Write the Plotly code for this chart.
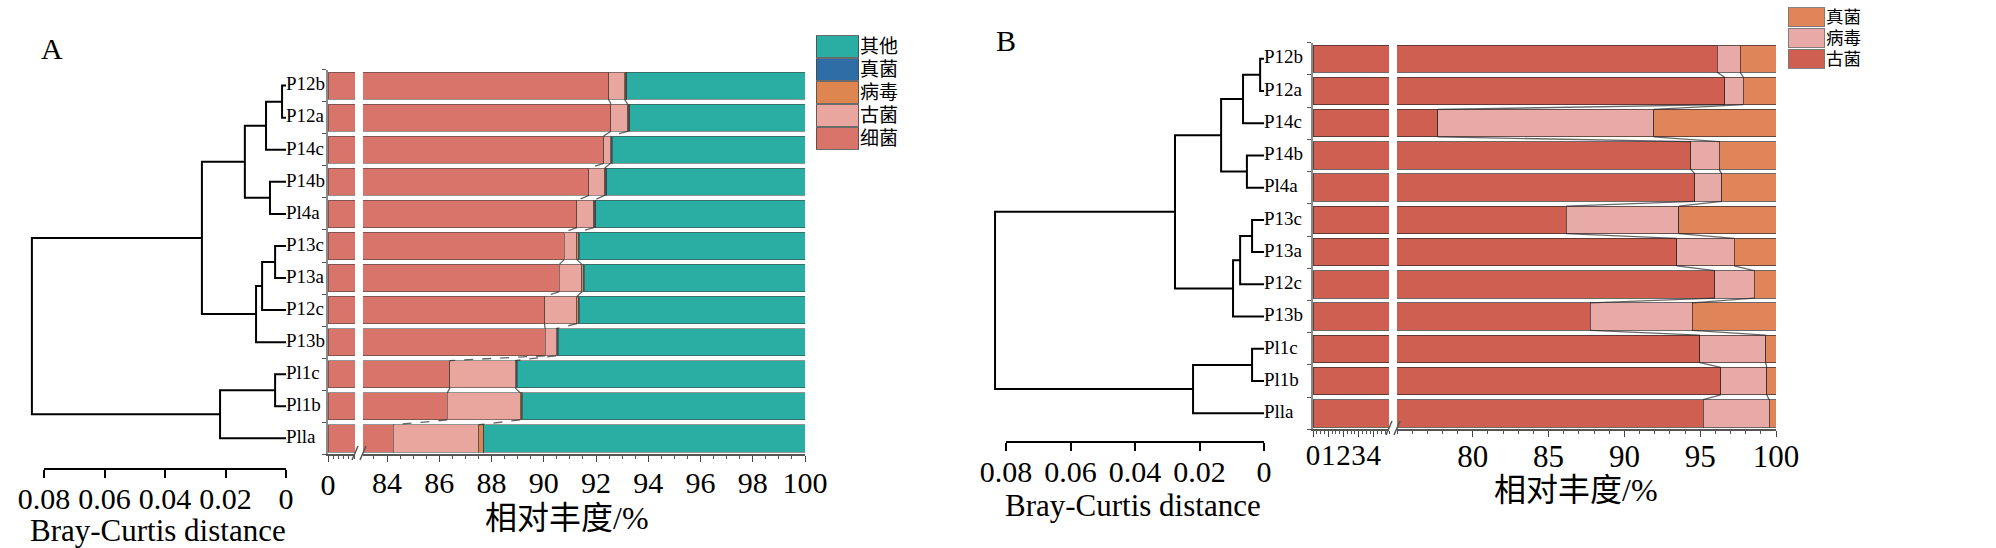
import plotly.graph_objects as go

W, H = 1996, 548

# ---------------- data ----------------
samples = ["P12b", "P12a", "P14c", "P14b", "Pl4a", "P13c", "P13a", "P12c", "P13b", "Pl1c", "Pl1b", "Plla"]

# Panel A : relative abundance (%)
a_bacteria = [92.48, 92.57, 92.29, 91.73, 91.27, 90.78, 90.60, 90.03, 90.05, 86.41, 86.31, 84.24]
a_archaea = [0.61, 0.64, 0.25, 0.60, 0.64, 0.49, 0.86, 1.24, 0.42, 2.49, 2.79, 3.28]
a_virus = [0.05, 0.05, 0.05, 0.05, 0.05, 0.05, 0.05, 0.05, 0.05, 0.05, 0.05, 0.16]
a_fungi = [0.03, 0.03, 0.03, 0.03, 0.03, 0.03, 0.03, 0.03, 0.03, 0.03, 0.03, 0.03]
a_others = [6.83, 6.71, 7.38, 7.59, 8.01, 8.65, 8.46, 8.65, 9.45, 11.02, 10.82, 12.29]

# Panel B : relative abundance (%)
b_archaea = [96.13, 96.61, 77.69, 94.37, 94.65, 86.15, 93.44, 95.95, 87.76, 94.98, 96.35, 95.20]
b_virus = [1.50, 1.24, 14.25, 1.87, 1.77, 7.44, 3.79, 2.60, 6.72, 4.34, 3.04, 4.34]
b_fungi = [2.37, 2.15, 8.06, 3.76, 3.58, 6.41, 2.77, 1.45, 5.52, 0.68, 0.61, 0.46]

# Dendrograms (Bray-Curtis), linkage: node 12+ = merge of (left, right) at height
link_left = [0, 12, 3, 13, 5, 16, 17, 15, 9, 20, 19]
link_right = [1, 2, 4, 14, 6, 7, 8, 18, 10, 11, 21]
a_link_height = [0.0013, 0.0066, 0.0053, 0.0136, 0.0036, 0.0079, 0.0099, 0.0278, 0.0036, 0.0218, 0.084]
b_link_height = [0.0012, 0.0065, 0.0053, 0.0133, 0.0037, 0.0074, 0.0096, 0.0276, 0.0037, 0.0220, 0.0834]

dist_ticks = [0.08, 0.06, 0.04, 0.02, 0]
dist_ticktext = ["0.08", "0.06", "0.04", "0.02", "0"]

a_names = ["细菌", "古菌", "病毒", "真菌", "其他"]
a_colors = ["#d9746b", "#e9a69e", "#de8550", "#2e6da6", "#2aada2"]
b_names = ["古菌", "病毒", "真菌"]
b_colors = ["#cf5f51", "#e8aaa6", "#e0855a"]

a_ticks_right = [84, 86, 88, 90, 92, 94, 96, 98, 100]
b_ticks_left = [0, 1, 2, 3, 4]
b_ticks_right = [80, 85, 90, 95, 100]

# ---------------- helpers ----------------
SERIF = "Liberation Serif, Times New Roman, serif"
CJK = "Liberation Serif, Noto Sans CJK SC, sans-serif"
BARGAP = 0.15


def xd(a, b):
    return [a / W, b / W]


def yd(top, bottom):
    return [1 - bottom / H, 1 - top / H]


def bar_domain(top, bottom, n=12):
    pitch = (bottom - top) / (n - BARGAP)
    return yd(top - BARGAP / 2 * pitch, bottom + BARGAP / 2 * pitch)


def dendro_xy(heights):
    pos = {i: float(i) for i in range(len(samples))}
    hgt = {i: 0.0 for i in range(len(samples))}
    xs, ys = [], []
    for k, (l, r, h) in enumerate(zip(link_left, link_right, heights)):
        node = len(samples) + k
        xs += [hgt[l], h, h, hgt[r], None]
        ys += [pos[l], pos[l], pos[r], pos[r], None]
        pos[node] = (pos[l] + pos[r]) / 2
        hgt[node] = h
    return xs, ys


def connectors(series_list, n_bound):
    xs, ys = [], []
    half = (1 - BARGAP) / 2
    cums = []
    for i in range(len(samples)):
        c, row = 0, []
        for s in series_list[:n_bound]:
            c += s[i]
            row.append(c)
        cums.append(row)
    for k in range(n_bound):
        for i in range(len(samples) - 1):
            xs += [cums[i][k], cums[i + 1][k], None]
            ys += [i + half, i + 1 - half, None]
    return xs, ys


fig = go.Figure()
rows = list(range(len(samples)))

# ---------------- panel A ----------------
dx, dy = dendro_xy(a_link_height)
fig.add_trace(go.Scatter(x=dx, y=dy, mode="lines", line=dict(color="black", width=2),
                         xaxis="x", yaxis="y", hoverinfo="skip", showlegend=False))
fig.add_trace(go.Scatter(x=[0] * len(samples), y=rows, mode="text", text=samples,
                         textposition="middle right", cliponaxis=False,
                         textfont=dict(family=SERIF, size=19, color="black"),
                         xaxis="x", yaxis="y", hoverinfo="skip", showlegend=False))
# scale bar A (distance axis)
fig.add_trace(go.Scatter(x=dist_ticks, y=[0] * len(dist_ticks), mode="markers",
                         marker=dict(opacity=0), xaxis="x2", yaxis="y2",
                         hoverinfo="skip", showlegend=False))

a_series = [a_bacteria, a_archaea, a_virus, a_fungi, a_others]
for xa in ["x3", "x4"]:
    for name, vals, col in zip(a_names, a_series, a_colors):
        fig.add_trace(go.Bar(x=vals, y=rows, orientation="h", name=name,
                             marker=dict(color=col, line=dict(color="rgba(60,60,60,0.55)", width=1)),
                             xaxis=xa, yaxis="y", showlegend=False))
cx, cy = connectors(a_series, 2)
fig.add_trace(go.Scatter(x=cx, y=cy, mode="lines",
                         line=dict(color="rgba(50,50,50,0.75)", width=1.3, dash="dash"),
                         xaxis="x4", yaxis="y", hoverinfo="skip", showlegend=False))

# legend A
fig.add_trace(go.Bar(x=[1] * len(a_names), y=list(range(len(a_names))), orientation="h",
                     width=0.93, base=0,
                     marker=dict(color=a_colors[::-1], line=dict(color="rgba(70,70,70,0.8)", width=1.2)),
                     xaxis="x5", yaxis="y5", hoverinfo="skip", showlegend=False))

# ---------------- panel B ----------------
dx, dy = dendro_xy(b_link_height)
fig.add_trace(go.Scatter(x=dx, y=dy, mode="lines", line=dict(color="black", width=2),
                         xaxis="x6", yaxis="y6", hoverinfo="skip", showlegend=False))
fig.add_trace(go.Scatter(x=[0] * len(samples), y=rows, mode="text", text=samples,
                         textposition="middle right", cliponaxis=False,
                         textfont=dict(family=SERIF, size=19, color="black"),
                         xaxis="x6", yaxis="y6", hoverinfo="skip", showlegend=False))
fig.add_trace(go.Scatter(x=dist_ticks, y=[0] * len(dist_ticks), mode="markers",
                         marker=dict(opacity=0), xaxis="x7", yaxis="y7",
                         hoverinfo="skip", showlegend=False))

b_series = [b_archaea, b_virus, b_fungi]
for xa in ["x8", "x9"]:
    for name, vals, col in zip(b_names, b_series, b_colors):
        fig.add_trace(go.Bar(x=vals, y=rows, orientation="h", name=name,
                             marker=dict(color=col, line=dict(color="rgba(50,40,40,0.7)", width=1)),
                             xaxis=xa, yaxis="y6", showlegend=False))
cx, cy = connectors(b_series, 2)
fig.add_trace(go.Scatter(x=cx, y=cy, mode="lines",
                         line=dict(color="rgba(40,40,40,0.7)", width=1.3),
                         xaxis="x9", yaxis="y6", hoverinfo="skip", showlegend=False))

# legend B
fig.add_trace(go.Bar(x=[1] * len(b_names), y=list(range(len(b_names))), orientation="h",
                     width=0.92, base=0,
                     marker=dict(color=b_colors[::-1], line=dict(color="rgba(120,120,120,0.9)", width=1.2)),
                     xaxis="x10", yaxis="y10", hoverinfo="skip", showlegend=False))

# ---------------- axes ----------------
hidden = dict(visible=False, showgrid=False, zeroline=False, fixedrange=True, automargin=False)
PX = 0.08 / 242.0  # distance units per pixel (panel A)
PXB = 0.08 / 258.0

boundaries = [i - 0.5 for i in range(len(samples) + 1)]
bar_y_common = dict(range=[len(samples) - 0.5, -0.5], showgrid=False, zeroline=False,
                    showline=True, linecolor="#8a8a8a", linewidth=1.5, automargin=False,
                    tickmode="array", tickvals=boundaries, ticks="outside", ticklen=4,
                    tickcolor="#555", showticklabels=False)


def bar_x(domain, rng, anchor, tickvals, ticksize, minor_tick0, minor_dtick, standoff):
    return dict(domain=domain, range=rng, anchor=anchor, showgrid=False, zeroline=False,
                showline=True, linecolor="#555", linewidth=1.5, ticks="outside",
                ticklen=6, tickcolor="#444", tickwidth=1.2, automargin=False,
                tickmode="array", tickvals=tickvals, ticktext=[str(v) for v in tickvals],
                tickangle=0, ticklabelstandoff=standoff,
                tickfont=dict(family=SERIF, size=ticksize, color="black"),
                minor=dict(tickmode="linear", tick0=minor_tick0, dtick=minor_dtick,
                           ticks="outside", ticklen=3, tickcolor="#555", showgrid=False))


def scale_x(domain, anchor, size):
    return dict(domain=domain, range=[0.08, 0], anchor=anchor, showgrid=False, zeroline=False,
                showline=True, linecolor="black", linewidth=2, ticks="outside", ticklen=8,
                tickwidth=2, tickcolor="black", tickmode="array", tickvals=dist_ticks,
                ticktext=dist_ticktext, tickangle=0, fixedrange=True, automargin=False,
                ticklabelstandoff=-5,
                tickfont=dict(family=SERIF, size=size, color="black"))


def legend_y(domain, anchor, names, size):
    return dict(domain=domain, range=[len(names) - 0.5, -0.5], anchor=anchor, side="right",
                showgrid=False, zeroline=False, showline=False, ticks="", automargin=False,
                tickmode="array", tickvals=list(range(len(names))), ticktext=names[::-1],
                tickfont=dict(family=CJK, size=size, color="black"))


layout = dict(
    template="none",
    width=W, height=H, autosize=False, margin=dict(l=0, r=0, t=0, b=0, pad=0),
    paper_bgcolor="white", plot_bgcolor="rgba(0,0,0,0)",
    barmode="stack", bargap=BARGAP, showlegend=False,
    # Panel A
    xaxis=dict(domain=xd(20, 286), range=[266 * PX, 0], anchor="y", **hidden),
    yaxis=dict(domain=bar_domain(72, 452), anchor="x3", **bar_y_common),
    xaxis2=scale_x(xd(44, 286), "y2", 30),
    yaxis2=dict(domain=yd(458, 468), anchor="x2", range=[0, 1], **hidden),
    xaxis3=bar_x(xd(328, 355), [0, 1.03], "y", [0], 30, 0, 0.2, -3),
    xaxis4=bar_x(xd(363, 805), [83.08, 100], "y", a_ticks_right, 30, 83, 0.5, -5),
    xaxis5=dict(domain=xd(816, 859), range=[0, 1], anchor="y5", **hidden),
    yaxis5=legend_y(yd(35, 150), "x5", a_names, 19),
    # Panel B
    xaxis6=dict(domain=xd(980, 1264), range=[284 * PXB, 0], anchor="y6", **hidden),
    yaxis6=dict(domain=bar_domain(45, 427), anchor="x8", **bar_y_common),
    xaxis7=scale_x(xd(1006, 1264), "y7", 30),
    yaxis7=dict(domain=yd(431, 441), anchor="x7", range=[0, 1], **hidden),
    xaxis8=bar_x(xd(1313, 1389), [0, 5], "y6", b_ticks_left, 29, 0, 0.25, -7),
    xaxis9=bar_x(xd(1397, 1776), [75, 100], "y6", b_ticks_right, 31, 75, 1, -7),
    xaxis10=dict(domain=xd(1788, 1825), range=[0, 1], anchor="y10", **hidden),
    yaxis10=legend_y(yd(7, 69), "x10", b_names, 17.5),
)
fig.update_layout(**layout)


def ann(text, xpx, ypx, size, family=SERIF):
    fig.add_annotation(text=text, x=xpx / W, y=1 - ypx / H, xref="paper", yref="paper",
                       xanchor="center", yanchor="middle", showarrow=False,
                       font=dict(family=family, size=size, color="black"))


ann("A", 52, 48, 30)
ann("B", 1006, 40, 30)
ann("Bray-Curtis distance", 158, 530, 31)
ann("Bray-Curtis distance", 1133, 505, 31)
ann("相对丰度/%", 567, 518, 32, CJK)
ann("相对丰度/%", 1576, 490, 32, CJK)

# axis-break marks
for (x0, x1, ybot) in [(355, 363, 452), (1389, 1397, 427)]:
    for xb in (x0, x1):
        fig.add_shape(type="line", xref="paper", yref="paper",
                      x0=(xb - 3) / W, x1=(xb + 3) / W, y0=1 - (ybot + 8) / H, y1=1 - (ybot - 6) / H,
                      line=dict(color="#555", width=1.5))

fig.write_html(
    "out.html",
    config={"responsive": False, "displayModeBar": False},
    post_script="document.body.style.margin='0';document.body.style.overflow='hidden';"
                "document.documentElement.style.overflow='hidden';",
)
